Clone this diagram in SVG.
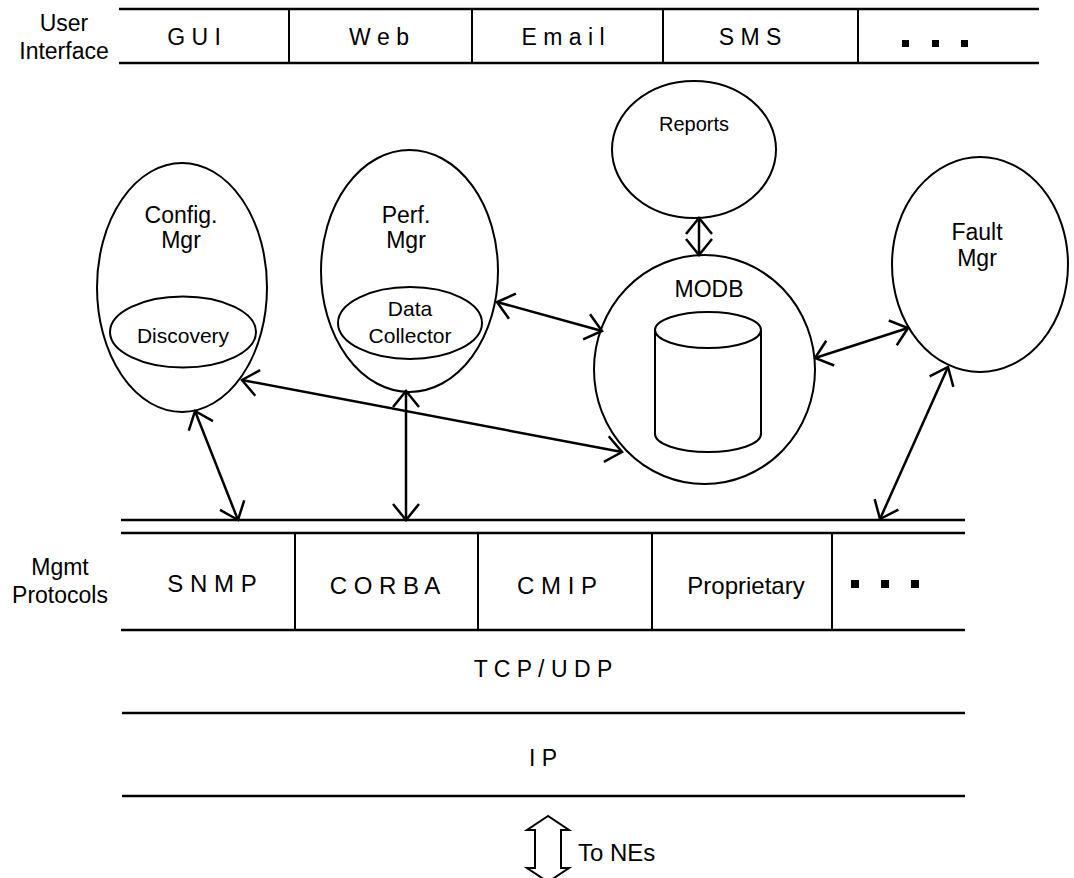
<svg xmlns="http://www.w3.org/2000/svg" width="1074" height="878" viewBox="0 0 1074 878">
<style>
text{font-family:"Liberation Sans",Arial,sans-serif;fill:#000}
.lbl{font-size:23px;text-anchor:middle}
.sm{font-size:21px;text-anchor:middle}
.bar{stroke:#000;stroke-width:2.5;fill:none}
.div{stroke:#000;stroke-width:2;fill:none}
.node{stroke:#000;stroke-width:2;fill:none}
.con{stroke:#000;stroke-width:2.5;fill:none;marker-start:url(#ah);marker-end:url(#ah)}
</style>
<defs>
<marker id="ah" viewBox="-20 -16 22 32" refX="0" refY="0" markerWidth="22" markerHeight="32" markerUnits="userSpaceOnUse" orient="auto-start-reverse" overflow="visible">
<path d="M-16,-13 L0,0 L-16,13" fill="none" stroke="#000" stroke-width="2.5"/>
</marker>
</defs>
<rect width="1074" height="878" fill="#fff"/>

<g id="user-interface">
<text class="lbl" x="64" y="31">User</text>
<text class="lbl" x="64" y="59">Interface</text>
<line class="bar" x1="119" y1="9" x2="1039" y2="9"/>
<line class="bar" x1="119" y1="63" x2="1039" y2="63"/>
<line class="div" x1="289" y1="9" x2="289" y2="63"/>
<line class="div" x1="472" y1="9" x2="472" y2="63"/>
<line class="div" x1="663" y1="9" x2="663" y2="63"/>
<line class="div" x1="858" y1="9" x2="858" y2="63"/>
<text class="lbl" x="194" y="45">G U I</text>
<text class="lbl" x="379" y="45">W e b</text>
<text class="lbl" x="563" y="45">E m a i l</text>
<text class="lbl" x="750" y="45">S M S</text>
<rect x="902" y="40" width="7" height="7"/>
<rect x="932" y="40" width="7" height="7"/>
<rect x="961" y="40" width="7" height="7"/>
</g>

<g id="config-mgr">
<ellipse class="node" cx="182" cy="287.5" rx="85" ry="124.5"/>
<text class="lbl" x="181" y="223">Config.</text>
<text class="lbl" x="181" y="248">Mgr</text>
<ellipse class="node" cx="183" cy="332" rx="73" ry="35.5"/>
<text class="sm" x="183" y="343">Discovery</text>
</g>

<g id="perf-mgr">
<ellipse class="node" cx="409.5" cy="271" rx="88.5" ry="121"/>
<text class="lbl" x="406" y="223">Perf.</text>
<text class="lbl" x="406" y="248">Mgr</text>
<ellipse class="node" cx="410" cy="323" rx="72" ry="36"/>
<text class="sm" x="410" y="316">Data</text>
<text class="sm" x="410" y="343">Collector</text>
</g>

<g id="reports">
<ellipse class="node" cx="694" cy="149.5" rx="82" ry="68.5"/>
<text class="lbl" style="font-size:20px" x="694" y="131">Reports</text>
</g>

<g id="modb">
<ellipse class="node" cx="704.5" cy="369.5" rx="110.5" ry="114.5"/>
<text class="lbl" x="709" y="297">MODB</text>
<path class="node" d="M655,330 A53,18 0 0,1 761,330 A53,18 0 0,1 655,330 Z M655,330 L655,434 A53,18 0 0,0 761,434 L761,330"/>
</g>

<g id="fault-mgr">
<ellipse class="node" cx="980" cy="264.5" rx="88" ry="107.5"/>
<text class="lbl" x="977" y="240">Fault</text>
<text class="lbl" x="977" y="266">Mgr</text>
</g>

<g id="mgmt-protocols">
<text class="lbl" x="60" y="575">Mgmt</text>
<text class="lbl" x="60" y="603">Protocols</text>
<line class="bar" x1="121" y1="520" x2="965" y2="520"/>
<line class="bar" x1="121" y1="533" x2="965" y2="533"/>
<line class="bar" x1="121" y1="630" x2="965" y2="630"/>
<line class="div" x1="295" y1="533" x2="295" y2="630"/>
<line class="div" x1="478" y1="533" x2="478" y2="630"/>
<line class="div" x1="652" y1="533" x2="652" y2="630"/>
<line class="div" x1="832" y1="533" x2="832" y2="630"/>
<text class="lbl" style="font-size:24px" x="212" y="592">S N M P</text>
<text class="lbl" style="font-size:24px" x="385" y="594">C O R B A</text>
<text class="lbl" style="font-size:24px" x="557" y="594">C M I P</text>
<text class="lbl" style="font-size:24px" x="746" y="594">Proprietary</text>
<rect x="851" y="580" width="8" height="8"/>
<rect x="881" y="580" width="8" height="8"/>
<rect x="911" y="580" width="8" height="8"/>
</g>

<g id="tcp-udp">
<text class="lbl" x="543" y="677">T C P / U D P</text>
<line class="bar" x1="122" y1="713" x2="965" y2="713"/>
</g>

<g id="ip">
<text class="lbl" x="543" y="766">I P</text>
<line class="bar" x1="122" y1="796" x2="965" y2="796"/>
</g>

<g id="to-nes">
<path class="node" d="M548,816 L527,830 L535,830 L535,868 L527,868 L548,882 L569,868 L561,868 L561,830 L569,830 Z"/>
<text style="font-size:24px" x="578" y="861">To NEs</text>
</g>

<g id="connectors">
<line class="con" x1="497" y1="302" x2="602" y2="331"/>
<line class="con" x1="242" y1="380" x2="622" y2="452"/>
<line class="con" x1="195" y1="411" x2="238" y2="520"/>
<line class="con" x1="406" y1="391" x2="406" y2="520"/>
<line class="con" x1="815" y1="358" x2="908" y2="328"/>
<line class="con" x1="948" y1="367" x2="880" y2="519"/>
<line class="con" x1="699" y1="218" x2="699" y2="255"/>
</g>
</svg>
